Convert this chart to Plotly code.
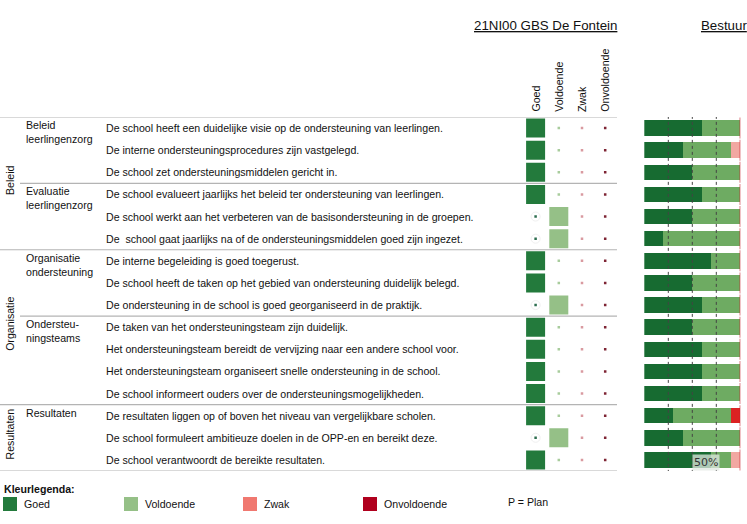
import plotly.graph_objects as go

W, H = 747, 524

# ---------------- data ----------------
group_names = ["Beleid", "Organisatie", "Resultaten"]
group_sizes = [6, 7, 3]
subgroup_names = ["Beleid<br>leerlingenzorg", "Evaluatie<br>leerlingenzorg",
                  "Organisatie<br>ondersteuning", "Ondersteu-<br>ningsteams", "Resultaten"]
subgroup_sizes = [3, 3, 3, 4, 3]
statements = [
    "De school heeft een duidelijke visie op de ondersteuning van leerlingen.",
    "De interne ondersteuningsprocedures zijn vastgelegd.",
    "De school zet ondersteuningsmiddelen gericht in.",
    "De school evalueert jaarlijks het beleid ter ondersteuning van leerlingen.",
    "De school werkt aan het verbeteren van de basisondersteuning in de groepen.",
    "De  school gaat jaarlijks na of de ondersteuningsmiddelen goed zijn ingezet.",
    "De interne begeleiding is goed toegerust.",
    "De school heeft de taken op het gebied van ondersteuning duidelijk belegd.",
    "De ondersteuning in de school is goed georganiseerd in de praktijk.",
    "De taken van het ondersteuningsteam zijn duidelijk.",
    "Het ondersteuningsteam bereidt de vervijzing naar een andere school voor.",
    "Het ondersteuningsteam organiseert snelle ondersteuning in de school.",
    "De school informeert ouders over de ondersteuningsmogelijkheden.",
    "De resultaten liggen op of boven het niveau van vergelijkbare scholen.",
    "De school formuleert ambitieuze doelen in de OPP-en en bereikt deze.",
    "De school verantwoordt de bereikte resultaten.",
]
score_levels = ["Goed", "Voldoende", "Zwak", "Onvoldoende"]
school_score = ["Goed", "Goed", "Goed", "Goed", "Voldoende", "Voldoende",
                "Goed", "Goed", "Voldoende", "Goed", "Goed", "Goed", "Goed",
                "Goed", "Voldoende", "Goed"]
bestuur_goed = [60, 40, 50, 60, 50, 20, 70, 50, 60, 50, 60, 60, 60, 30, 40, 70]
bestuur_voldoende = [40, 50, 50, 40, 50, 80, 30, 50, 40, 50, 40, 40, 40, 60, 60, 20]
bestuur_zwak = [0, 10, 0, 0, 0, 0, 0, 0, 0, 0, 0, 0, 0, 0, 0, 10]
bestuur_onvoldoende = [0, 0, 0, 0, 0, 0, 0, 0, 0, 0, 0, 0, 0, 10, 0, 0]
grid_values = [25, 50, 75]
title_school = "21NI00 GBS De Fontein"
title_bestuur = "Bestuur"
tooltip_label = "50%"
tooltip_x = 64
tooltip_row = 15

# ---------------- style ----------------
FONT = "Liberation Sans, Arial, sans-serif"
FS = 10.6
sq_colors = {"Goed": "#237a3c", "Voldoende": "#95c087", "Zwak": "#f07870", "Onvoldoende": "#b0001e"}
dot_colors = {"Goed": "#2e6e50", "Voldoende": "#a8cc9c", "Zwak": "#d99aa0", "Onvoldoende": "#7e2434"}
bar_colors = ["#176b31", "#6eab62", "#f2a8a2", "#dc2222"]
line_col = "#b4b4b4"


def fx(p):
    return p / W


def fy(p):
    return 1 - p / H


n = len(statements)
rows = list(range(n))

fig = go.Figure()

# squares / dots of the school
for ci, lev in enumerate(score_levels):
    ys_sq = [i for i in rows if school_score[i] == lev]
    ys_dot = [i for i in rows if school_score[i] != lev]
    if ys_sq:
        fig.add_trace(go.Scatter(x=[ci] * len(ys_sq), y=ys_sq, mode="markers", xaxis="x", yaxis="y",
                                 marker=dict(symbol="square", size=19, color=sq_colors[lev], line=dict(width=0)),
                                 showlegend=False, hoverinfo="skip"))
    if lev == "Goed" and ys_dot:
        fig.add_trace(go.Scatter(x=[ci] * len(ys_dot), y=ys_dot, mode="markers", xaxis="x", yaxis="y",
                                 marker=dict(symbol="circle-open", size=9, color="#f0f0f0", line=dict(width=1)),
                                 showlegend=False, hoverinfo="skip"))
    fig.add_trace(go.Scatter(x=[ci] * len(ys_dot), y=ys_dot, mode="markers", xaxis="x", yaxis="y",
                             marker=dict(symbol="square", size=2.5, color=dot_colors[lev], line=dict(width=0)),
                             showlegend=False, hoverinfo="skip"))

# stacked bars of bestuur
for vals, col, name in zip([bestuur_goed, bestuur_voldoende, bestuur_zwak, bestuur_onvoldoende],
                           bar_colors, score_levels):
    fig.add_trace(go.Bar(x=vals, y=rows, orientation="h", xaxis="x2", yaxis="y",
                         marker=dict(color=col, line=dict(width=0)), width=0.7, name=name,
                         showlegend=False, hoverinfo="skip"))
# thin red end marker at the end of each bar
ends = [a + b + c + d for a, b, c, d in zip(bestuur_goed, bestuur_voldoende, bestuur_zwak, bestuur_onvoldoende)]
fig.add_trace(go.Scatter(x=ends, y=rows, mode="markers", xaxis="x2", yaxis="y",
                         marker=dict(symbol="line-ns", size=15, line=dict(color="#c8202a", width=1.2)),
                         showlegend=False, hoverinfo="skip"))

shapes = []
# grid lines on bars
for g in grid_values:
    shapes.append(dict(type="line", xref="x2", yref="y", x0=g, x1=g, y0=-0.55, y1=15.55,
                       line=dict(color="#444", width=1, dash="dot"), layer="above"))
# bar area top/bottom lines
for yv in [-0.55, 15.55]:
    shapes.append(dict(type="line", xref="paper", yref="y", x0=fx(643), x1=fx(747), y0=yv, y1=yv,
                       line=dict(color=line_col, width=1.2)))
# table lines
bounds_full = [0]
acc = 0
for s in group_sizes:
    acc += s
    bounds_full.append(acc)
bounds_sub = []
acc = 0
for s in subgroup_sizes:
    acc += s
    if acc not in bounds_full:
        bounds_sub.append(acc)
for b in bounds_full:
    shapes.append(dict(type="line", xref="paper", yref="y", x0=0, x1=fx(617), y0=b - 0.5, y1=b - 0.5,
                       line=dict(color=line_col, width=1.2)))
for b in bounds_sub:
    shapes.append(dict(type="line", xref="paper", yref="y", x0=fx(20), x1=fx(617), y0=b - 0.5, y1=b - 0.5,
                       line=dict(color=line_col, width=1.2)))

# legend swatches
legend_x = [3, 124, 243, 363]
for lx, lev in zip(legend_x, score_levels):
    shapes.append(dict(type="rect", xref="paper", yref="paper", x0=fx(lx), x1=fx(lx + 14),
                       y0=fy(511), y1=fy(497), fillcolor=sq_colors[lev], line=dict(width=0)))

ann = []
txt = dict(family=FONT, size=FS, color="#111")
# statements
for i, s in enumerate(statements):
    ann.append(dict(xref="paper", yref="y", x=fx(104), y=i, text=s, showarrow=False,
                    xanchor="left", yanchor="middle", font=txt))
# group labels
start = 0
for name, s in zip(group_names, group_sizes):
    ann.append(dict(xref="paper", yref="y", x=fx(10), y=start + (s - 1) / 2 - 0.15, text=name, showarrow=False,
                    textangle=-90, xanchor="center", yanchor="middle", font=txt))
    start += s
# subgroup labels
start = 0
for name, s in zip(subgroup_names, subgroup_sizes):
    ann.append(dict(xref="paper", yref="y", x=fx(24), y=start - 0.5, text=name, showarrow=False,
                    xanchor="left", yanchor="top", align="left", font=txt))
    start += s
# column headers
for ci, lev in enumerate(score_levels):
    ann.append(dict(xref="x", yref="paper", x=ci, y=fy(114), text=lev, showarrow=False,
                    textangle=-90, xanchor="center", yanchor="bottom", font=txt))
# titles
ann.append(dict(xref="paper", yref="paper", x=fx(545), y=fy(25), text="<u>" + title_school + "</u>",
                showarrow=False, xanchor="center", yanchor="middle",
                font=dict(family=FONT, size=13.3, color="#111")))
ann.append(dict(xref="paper", yref="paper", x=fx(699), y=fy(25), text="<u>" + title_bestuur + "</u>",
                showarrow=False, xanchor="left", yanchor="middle",
                font=dict(family=FONT, size=13.3, color="#111")))
# tooltip-like label
ann.append(dict(xref="x2", yref="y", x=tooltip_x, y=tooltip_row + 0.1, text=tooltip_label, showarrow=False,
                xanchor="center", yanchor="middle", bgcolor="rgba(225,232,225,0.75)", borderpad=1,
                font=dict(family="DejaVu Sans, sans-serif", size=11, color="#333")))
# legend texts
ann.append(dict(xref="paper", yref="paper", x=fx(2), y=fy(489), text="<b>Kleurlegenda:</b>", showarrow=False,
                xanchor="left", yanchor="middle", font=txt))
for lx, lev in zip(legend_x, score_levels):
    ann.append(dict(xref="paper", yref="paper", x=fx(lx + 19), y=fy(504), text=lev, showarrow=False,
                    xanchor="left", yanchor="middle", font=txt))
ann.append(dict(xref="paper", yref="paper", x=fx(506), y=fy(502), text="P = Plan", showarrow=False,
                xanchor="left", yanchor="middle", font=txt))

hidden = dict(showgrid=False, zeroline=False, showticklabels=False, showline=False, ticks="")
fig.update_layout(
    width=W, height=H, autosize=False,
    margin=dict(l=0, r=0, t=0, b=0),
    paper_bgcolor="white", plot_bgcolor="white",
    barmode="stack", bargap=0.3,
    xaxis=dict(domain=[fx(524), fx(616.8)], range=[-0.5, 3.5], anchor="y", **hidden),
    xaxis2=dict(domain=[fx(644.3), fx(740.3)], range=[0, 100], anchor="y", **hidden),
    yaxis=dict(domain=[fy(471), fy(117)], range=[15.5, -0.5], **hidden),
    shapes=shapes, annotations=ann,
    font=dict(family=FONT),
)

fig.write_html("out.html", config={"displayModeBar": False},
               post_script="document.body.style.margin='0';document.body.style.overflow='hidden';")
